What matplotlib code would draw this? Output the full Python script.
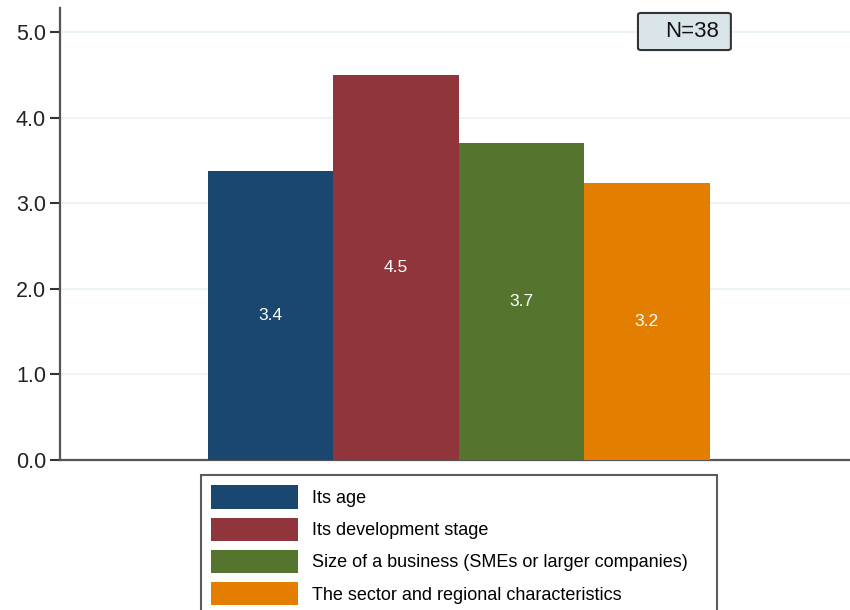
import numpy as np
import matplotlib.pyplot as plt
from matplotlib.patches import Patch, FancyBboxPatch

plt.rcParams['font.family'] = ['Liberation Sans', 'DejaVu Sans']

# data
labels = ['Its age', 'Its development stage',
          'Size of a business (SMEs or larger companies)',
          'The sector and regional characteristics']
values = [3.376, 4.50, 3.70, 3.24]
value_text = ['3.4', '4.5', '3.7', '3.2']
colors = ['#1a476f', '#90353b', '#55752f', '#e37e00']
yticks = [0, 1, 2, 3, 4, 5]

fig = plt.figure(figsize=(8.5, 6.1), dpi=100)
ax = fig.add_axes([60/850, 1 - 460/610, 790/850, 452/610])

x = np.arange(len(values))
ax.bar(x, values, width=1.0, color=colors, zorder=3)
for xi, v, t in zip(x, values, value_text):
    ax.text(xi, v / 2, t, ha='center', va='center', color='white',
            fontsize=12.5, zorder=4)

ax.set_xlim(-1.68, 4.62)
ax.set_ylim(0, 5.28)
ax.set_yticks(yticks)
ax.set_yticklabels([f'{t:.1f}' for t in yticks], fontsize=15.5, color='#222222')
ax.set_xticks([])
ax.grid(axis='y', color='#eaf2f3', lw=1.2, zorder=0)

ax.spines['right'].set_color('none')
ax.spines['top'].set_color('none')
for s in ['left', 'bottom']:
    ax.spines[s].set_color('#555555')
    ax.spines[s].set_linewidth(1.6)
ax.tick_params(axis='y', length=7, width=1.5, color='#333333', pad=3)

# N note box
box = FancyBboxPatch((0.7316, 0.907), 0.1176, 0.082,
                     boxstyle='round,pad=0,rounding_size=0.004',
                     transform=ax.transAxes, fc='#dae5ea', ec='#333333',
                     lw=1.5, clip_on=False, zorder=5)
ax.add_patch(box)
ax.text(0.8006, 0.947, 'N=38', transform=ax.transAxes, ha='center', va='center',
        fontsize=16, color='#111111', zorder=6)

handles = [Patch(facecolor=c, edgecolor='none') for c in colors]
leg = fig.legend(handles, labels, loc='upper left', mode='expand',
                 bbox_to_anchor=(201/850, 1 - 475/610, 516/850, 0),
                 fontsize=13, frameon=True, fancybox=False,
                 handlelength=4.8, handleheight=1.6, handletextpad=0.78,
                 labelspacing=0.5, borderpad=0.58, borderaxespad=0)
leg.get_frame().set_edgecolor('#333333')
leg.get_frame().set_linewidth(1.5)

fig.savefig('out.png', dpi=100)
